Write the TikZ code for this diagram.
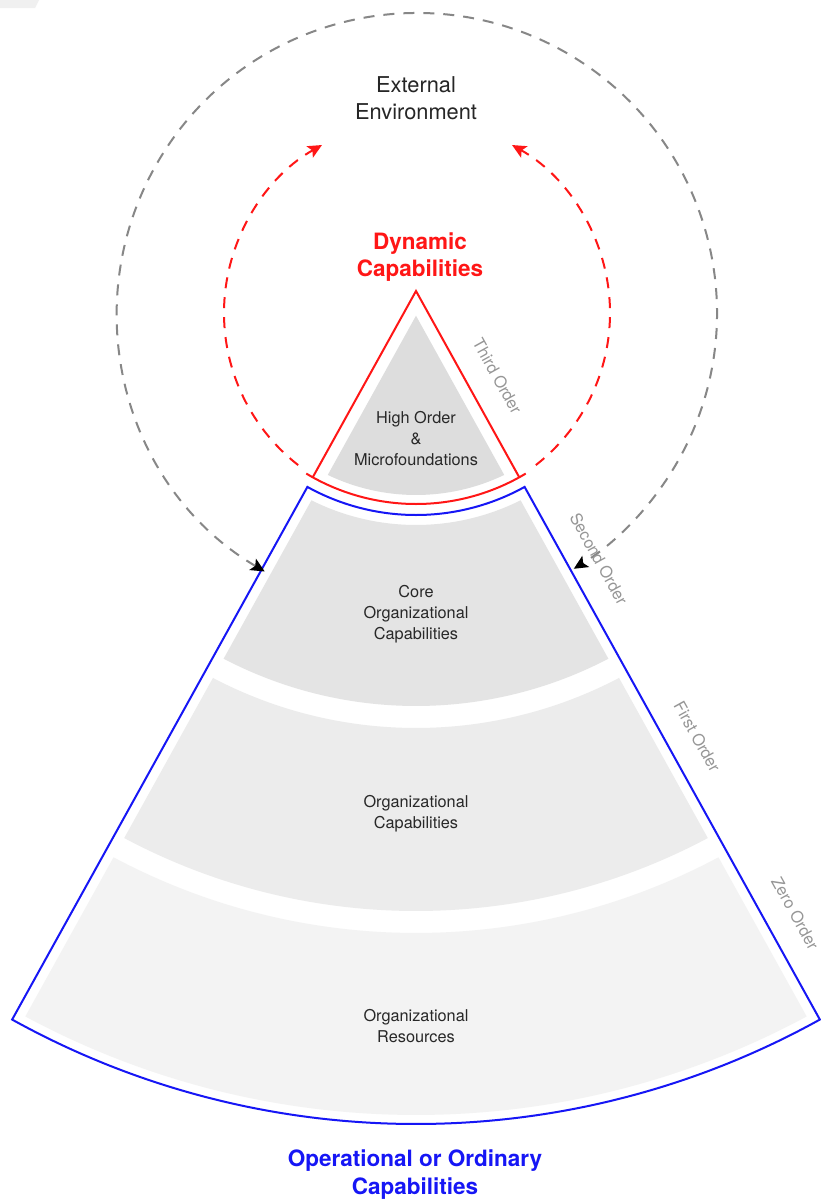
\documentclass[tikz,border=0pt]{standalone}
\usepackage{fontspec}
\setmainfont{TeX Gyre Heros}
\usetikzlibrary{calc,arrows.meta}

\definecolor{capred}{RGB}{255,22,22}
\definecolor{capblue}{RGB}{22,22,245}
\definecolor{envgray}{RGB}{135,135,135}
\definecolor{ordergray}{RGB}{150,150,150}
\definecolor{labeltext}{RGB}{40,40,40}
\definecolor{fillTop}{RGB}{221,221,221}
\definecolor{fillCore}{RGB}{228,228,228}
\definecolor{fillCap}{RGB}{236,236,236}
\definecolor{fillRes}{RGB}{243,243,243}

% half opening angle of the capability cone
\def\coneA{29}

% one filled band of the cone between radii #1 and #2, inset #3 from the sides
\newcommand{\capband}[4]{%
  \pgfmathsetmacro{\phiin}{\coneA-asin(#3/#1)}%
  \pgfmathsetmacro{\phiout}{\coneA-asin(#3/#2)}%
  \fill[#4] ($(O)+({-90-\phiin}:#1)$)
    arc[start angle={-90-\phiin}, end angle={-90+\phiin}, radius=#1]
    -- ($(O)+({-90+\phiout}:#2)$)
    arc[start angle={-90+\phiout}, end angle={-90-\phiout}, radius=#2]
    -- cycle;}

\begin{document}
\begin{tikzpicture}[x=1pt,y=1pt,
  envtext/.style={align=center, text=black!85, font=\fontsize{21.8}{27}\selectfont},
  headred/.style={align=center, text=capred, font=\fontsize{22.5}{27}\selectfont\bfseries},
  headblue/.style={align=center, text=capblue, font=\fontsize{22.5}{28}\selectfont\bfseries},
  bandlabel/.style={align=center, text=labeltext, font=\fontsize{16.3}{21}\selectfont},
  ordlabel/.style={text=ordergray, font=\fontsize{16.3}{20}\selectfont, rotate=-61},
  envloop/.style={draw=envgray, line width=2, dash pattern=on 11pt off 9pt},
  dynloop/.style={draw=capred, line width=2, dash pattern=on 11pt off 9pt}
]
\useasboundingbox (0,0) rectangle (820,-1200);
\fill[white] (0,0) rectangle (820,-1200);
\fill[black!6] (0,0) -- (39,0) -- (35,-8) -- (0,-8) -- cycle;

\coordinate (O) at (416,-291);
\coordinate (C) at (417,-313);

% filled layers
\pgfmathsetmacro{\phitri}{\coneA-asin(12/204)}
\fill[fillTop] ($(O)+(0,-24.7)$) -- ($(O)+({-90+\phitri}:204)$)
  arc[start angle={-90+\phitri}, end angle={-90-\phitri}, radius=204] -- cycle;
\capband{234}{415}{10}{fillCore}
\capband{437}{620}{10}{fillCap}
\capband{642}{824}{10}{fillRes}

% dynamic capabilities outline
\draw[capred, line width=2] ($(O)+(-119:213)$) -- (O) -- ($(O)+(-61:213)$);
\draw[capred, line width=2] ($(O)+(-121:213)$) arc[start angle=-121, end angle=-59, radius=213];

% operational capabilities outline
\draw[capblue, line width=2] ($(O)+(-119:224)$) -- ($(O)+(-119:833)$)
  arc[start angle=-119, end angle=-61, radius=833]
  -- ($(O)+(-61:224)$) arc[start angle=-61, end angle=-119, radius=224] -- cycle;

% external environment loop
\draw[envloop, {Stealth[black,length=14pt,width=13pt,inset=3pt]}-{Stealth[black,length=14pt,width=13pt,inset=3pt]}]
  ($(C)+(239.5:300)$) arc[start angle=239.5, end angle=-58.5, radius=300];

% dynamic capability loops
\draw[dynloop, -{Stealth[capred,length=14pt,width=13pt,inset=3pt]}]
  ($(C)+(232:193)$) arc[start angle=232, end angle=119.5, radius=193];
\draw[dynloop, -{Stealth[capred,length=14pt,width=13pt,inset=3pt]}]
  ($(C)+(-52:193)$) arc[start angle=-52, end angle=60.5, radius=193];

% texts
\node[envtext] (env) at (416,-98) {External\\Environment};
\node[headred] (dyn) at (420,-257) {Dynamic\\Capabilities};
\node[headblue] (ops) at (415,-1175) {Operational or Ordinary\\Capabilities};
\node[bandlabel] (hom) at (416,-439) {High Order\\\&\\Microfoundations};
\node[bandlabel] (core) at (416,-614) {Core\\Organizational\\Capabilities};
\node[bandlabel] (ocap) at (416,-814) {Organizational\\Capabilities};
\node[bandlabel] (ores) at (416,-1026) {Organizational\\Resources};

\node[ordlabel] (o3) at ($(O)+(-61:114)+(29:30)$) {Third Order};
\node[ordlabel] (o2) at ($(O)+(-61:323)+(29:30)$) {Second Order};
\node[ordlabel] (o1) at ($(O)+(-61:526)+(29:30)$) {First Order};
\node[ordlabel] (o0) at ($(O)+(-61:728)+(29:30)$) {Zero Order};
\end{tikzpicture}
\end{document}
